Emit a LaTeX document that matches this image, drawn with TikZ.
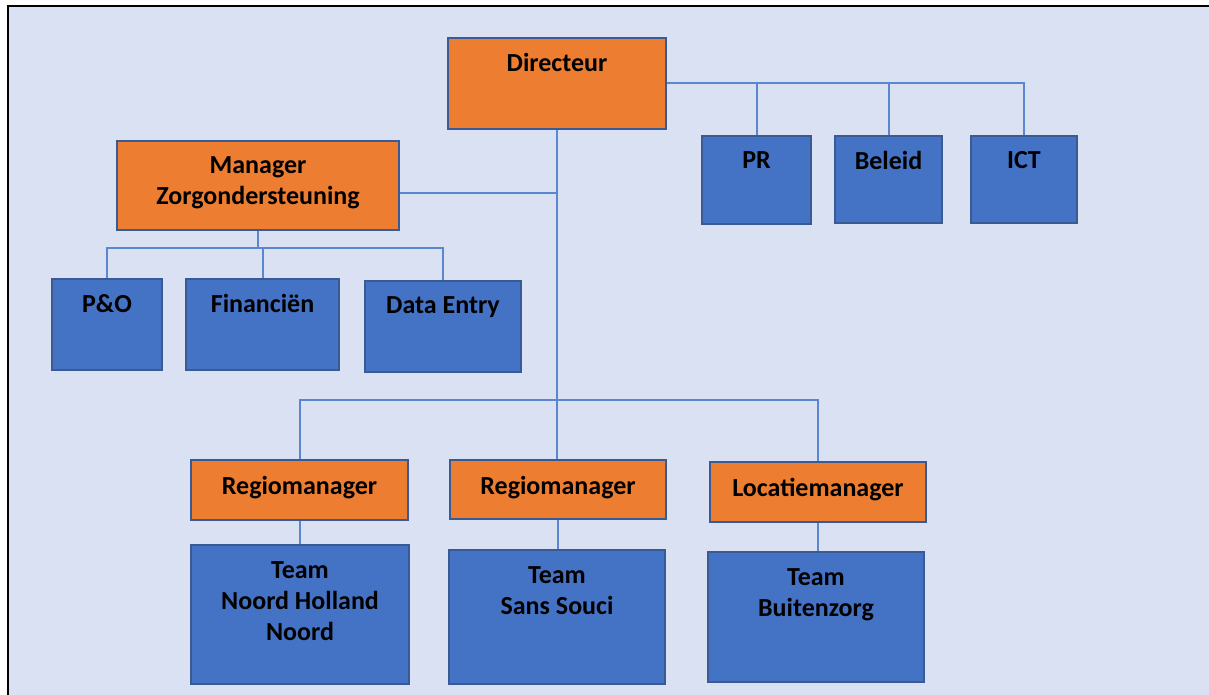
\documentclass[tikz,border=0pt]{standalone}
\usepackage{fontspec}
\setmainfont{Carlito}
\definecolor{bgblue}{HTML}{DAE1F2}
\definecolor{orgfill}{HTML}{ED7D31}
\definecolor{bluefill}{HTML}{4472C4}
\definecolor{boxline}{HTML}{3A5A94}
\definecolor{linkline}{HTML}{5B86D0}
\begin{document}
\begin{tikzpicture}[x=0.5pt,y=-0.5pt,
		obox/.style={draw=boxline,line width=0.8pt,fill=orgfill},
		bbox/.style={draw=boxline,line width=0.8pt,fill=bluefill},
		lbl/.style={anchor=north,inner sep=0pt,align=center,font=\bfseries\fontsize{13}{15.5}\selectfont},
		link/.style={draw=linkline,line width=1pt}]
	\useasboundingbox (0,0) rectangle (1209,695);
	\fill[bgblue] (8,6) rectangle (1209,695);
	\draw[line width=1pt] (8,695) -- (8,6) -- (1209,6);
	% boxes
	\node[obox,minimum width=109pt,minimum height=45.5pt] (dir) at (557,83.5) {};
	\node[bbox,minimum width=54.5pt,minimum height=44pt] (pr) at (756.5,180) {};
	\node[bbox,minimum width=53.5pt,minimum height=43.5pt] (bel) at (888.5,179.5) {};
	\node[bbox,minimum width=53pt,minimum height=43.5pt] (ict) at (1024,179.5) {};
	\node[obox,minimum width=141pt,minimum height=44.5pt] (mgr) at (258,185.5) {};
	\node[bbox,minimum width=55pt,minimum height=45.5pt] (po) at (107,324.5) {};
	\node[bbox,minimum width=76.5pt,minimum height=45.5pt] (fin) at (262.5,324.5) {};
	\node[bbox,minimum width=78pt,minimum height=45.5pt] (de) at (443,326.5) {};
	\node[obox,minimum width=108.5pt,minimum height=30pt] (rm1) at (299.5,490) {};
	\node[obox,minimum width=108pt,minimum height=29.5pt] (rm2) at (558,489.5) {};
	\node[obox,minimum width=108pt,minimum height=30pt] (lm) at (818,492) {};
	\node[bbox,minimum width=109pt,minimum height=69.5pt] (t1) at (300,614.5) {};
	\node[bbox,minimum width=108pt,minimum height=67pt] (t2) at (557,617) {};
	\node[bbox,minimum width=108pt,minimum height=65pt] (t3) at (816,617) {};
	% texts
	\node[lbl] (dirtxt) at ([yshift=-8pt]dir.north) {Directeur};
	\node[lbl] (prtxt) at ([yshift=-8pt]pr.north) {PR};
	\node[lbl] (beltxt) at ([yshift=-8pt]bel.north) {Beleid};
	\node[lbl] (icttxt) at ([yshift=-8pt]ict.north) {ICT};
	\node[lbl] (mgrtxt) at ([yshift=-8pt]mgr.north) {Manager\\Zorgondersteuning};
	\node[lbl] (potxt) at ([yshift=-8pt]po.north) {P\&O};
	\node[lbl] (fintxt) at ([yshift=-8pt]fin.north) {Financiën};
	\node[lbl] (detxt) at ([yshift=-8pt]de.north) {Data Entry};
	\node[lbl] (rm1txt) at ([yshift=-8.5pt]rm1.north) {Regiomanager};
	\node[lbl] (rm2txt) at ([yshift=-8.5pt]rm2.north) {Regiomanager};
	\node[lbl] (lmtxt) at ([yshift=-8.5pt]lm.north) {Locatiemanager};
	\node[lbl] (t1txt) at ([yshift=-8.5pt]t1.north) {Team\\Noord Holland\\Noord};
	\node[lbl] (t2txt) at ([yshift=-8.5pt]t2.north) {Team\\Sans Souci};
	\node[lbl] (t3txt) at ([yshift=-8.5pt]t3.north) {Team\\Buitenzorg};
	% connectors
	\coordinate (midbar) at (0,248);
	\coordinate (lowbar) at (0,400);
	\coordinate (mgrout) at ([yshift=-4pt]mgr.east);
	\draw[link] (dir.east) -- (ict.north |- dir.east) -- (ict.north);
	\draw[link] (pr.north) -- (pr.north |- dir.east);
	\draw[link] (bel.north) -- (bel.north |- dir.east);
	\draw[link] (dir.south) -- (dir.south |- rm2.north);
	\draw[link] (mgrout) -- (mgrout -| dir.south);
	\draw[link] (mgr.south) -- (mgr.south |- midbar);
	\draw[link] (po.north) -- (po.north |- midbar) -- (de.north |- midbar) -- (de.north);
	\draw[link] (fin.north) -- (fin.north |- midbar);
	\draw[link] (rm1.north) -- (rm1.north |- lowbar) -- (lm.north |- lowbar) -- (lm.north);
	\draw[link] (rm1.south) -- (rm1.south |- t1.north);
	\draw[link] (rm2.south) -- (rm2.south |- t2.north);
	\draw[link] (lm.south) -- (lm.south |- t3.north);
\end{tikzpicture}
\end{document}
